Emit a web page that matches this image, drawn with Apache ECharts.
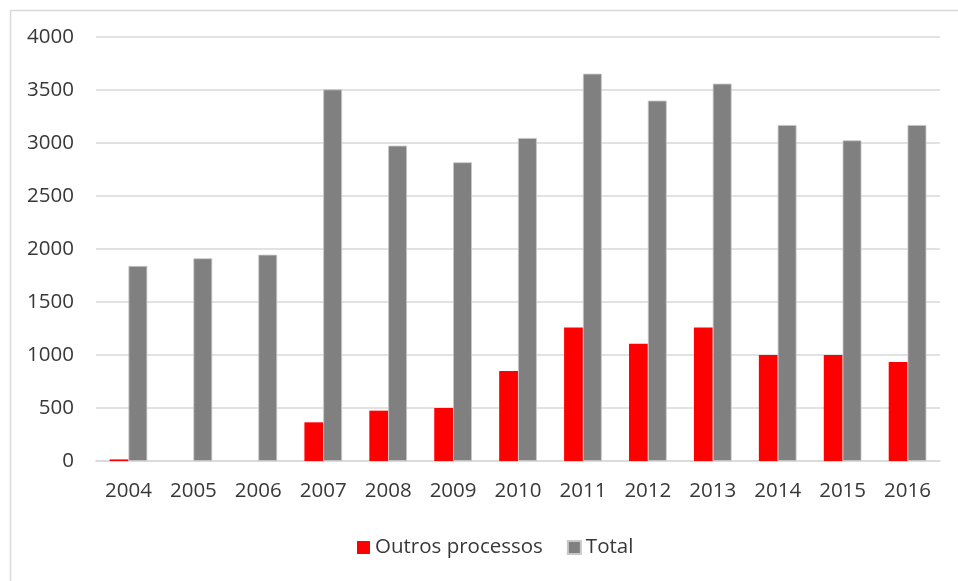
<!DOCTYPE html>
<html>
<head>
<meta charset="utf-8">
<script src="https://cdn.jsdelivr.net/npm/echarts@6/dist/echarts.min.js"></script>
<style>
  html, body { margin: 0; padding: 0; background: #fff; }
  #chart { width: 958px; height: 581px; }
</style>
</head>
<body>
<div id="chart"></div>
<script>
// dados
const years = ['2004', '2005', '2006', '2007', '2008', '2009', '2010', '2011', '2012', '2013', '2014', '2015', '2016'];
const outros = [15, 0, 0, 365, 475, 500, 850, 1260, 1105, 1260, 1000, 1000, 935];
const total = [1840, 1912, 1946, 3505, 2975, 2818, 3047, 3654, 3400, 3560, 3170, 3025, 3170];

const textColor = '#383838';
const gridColor = '#d9d9d9';
const font = 'Open Sans';
const fs = 20.5;

const chart = echarts.init(document.getElementById('chart'));
chart.setOption({
  animation: false,
  textStyle: { fontFamily: font },
  graphic: [{
    type: 'rect',
    left: 8, top: 8,
    shape: { width: 970, height: 600 },
    style: { fill: 'none', stroke: '#d9d9d9', lineWidth: 1.5 }
  }],
  grid: { left: 96, right: 18, top: 37, bottom: 120 },
  legend: {
    top: 532,
    left: 352,
    itemWidth: 13,
    itemHeight: 13,
    itemGap: 24,
    icon: 'rect',
    textStyle: { color: textColor, fontSize: fs, fontFamily: font }
  },
  xAxis: {
    type: 'category',
    data: years,
    axisLine: { lineStyle: { color: gridColor, width: 1.5 } },
    axisTick: { show: false },
    axisLabel: { color: textColor, fontSize: fs, margin: 20, fontFamily: font }
  },
  yAxis: {
    type: 'value',
    min: 0,
    max: 4000,
    interval: 500,
    axisLine: { show: false },
    axisTick: { show: false },
    splitLine: { lineStyle: { color: gridColor, width: 1.5 } },
    axisLabel: { color: textColor, fontSize: fs, margin: 22, fontFamily: font, formatter: v => String(v) }
  },
  series: [
    {
      name: 'Outros processos',
      type: 'bar',
      data: outros,
      barGap: '0%',
      barCategoryGap: '42%',
      itemStyle: { color: '#ff0000' }
    },
    {
      name: 'Total',
      type: 'bar',
      data: total,
      barGap: '0%',
      barCategoryGap: '42%',
      itemStyle: { color: '#808080', borderColor: '#c8c8c8', borderWidth: 0.8 }
    }
  ]
});
</script>
</body>
</html>
